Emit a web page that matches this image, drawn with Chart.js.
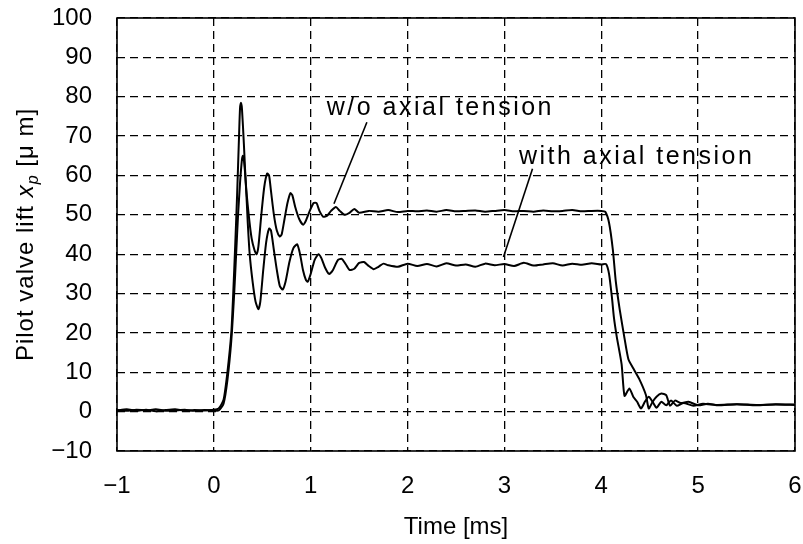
<!DOCTYPE html>
<html>
<head>
<meta charset="UTF-8">
<script src="https://cdn.jsdelivr.net/npm/chart.js"></script>
<title>Pilot valve lift</title>
<style>
  body { margin: 0; background: #fff; }
  #wrap { width: 803px; height: 544px; }
</style>
</head>
<body>
<div id="wrap"><canvas id="grafico"></canvas></div>
<script>
  // tempo [ms] e deslocamento [um]
  const tempoSem = [-1, -0.9, -0.8, -0.7, -0.6, -0.5, -0.4, -0.3, -0.2, -0.1, 0, 0.05, 0.1, 0.14, 0.18, 0.2, 0.22, 0.24, 0.26, 0.27, 0.28, 0.29, 0.31, 0.33, 0.36, 0.39, 0.42, 0.44, 0.46, 0.49, 0.52, 0.55, 0.57, 0.59, 0.62, 0.65, 0.68, 0.7, 0.73, 0.76, 0.79, 0.81, 0.84, 0.88, 0.92, 0.95, 0.99, 1.03, 1.06, 1.09, 1.13, 1.17, 1.21, 1.26, 1.3, 1.35, 1.4, 1.45, 1.5, 1.6, 1.7, 1.8, 1.9, 2.0, 2.1, 2.2, 2.3, 2.4, 2.5, 2.6, 2.7, 2.8, 2.9, 3.0, 3.1, 3.2, 3.3, 3.4, 3.5, 3.6, 3.7, 3.8, 3.9, 4.0, 4.04, 4.08, 4.12, 4.15, 4.19, 4.24, 4.28, 4.33, 4.39, 4.46, 4.49, 4.53, 4.57, 4.62, 4.67, 4.71, 4.76, 4.82, 4.9, 5.0, 5.1, 5.2, 5.4, 5.6, 5.8, 6.0];
  const liftSem = [0.3, 0.6, 0.2, 0.5, 0.1, 0.4, 0.6, 0.2, 0.4, 0.3, 0.5, 0.8, 3, 10, 20, 30, 42, 55, 70, 77, 78.5, 77, 68, 58, 50, 44, 41, 40, 42, 50, 57, 60.5, 60, 56, 50, 46, 44.5, 45, 49, 53, 55.5, 55, 52, 49, 47.5, 48.5, 51, 53, 53, 51, 49.5, 49.8, 51, 52, 51, 50, 50.5, 51.5, 50.5, 51, 50.8, 51.2, 50.7, 51, 50.9, 51.1, 50.8, 51.2, 50.9, 51, 51.1, 50.8, 51, 51.2, 50.9, 51, 50.8, 51.1, 50.9, 51, 51.2, 50.9, 51, 51, 50.8, 48, 41, 33, 26, 18.6, 13.3, 11, 8.4, 4.3, 0.8, 2.5, 3.8, 4.6, 4.2, 1.5, 2.8, 2.2, 2.5, 1.6, 2, 1.7, 1.9, 1.6, 1.9, 1.8];

  const tempoCom = [-1, -0.9, -0.8, -0.7, -0.6, -0.5, -0.4, -0.3, -0.2, -0.1, 0, 0.05, 0.1, 0.14, 0.18, 0.21, 0.23, 0.25, 0.27, 0.29, 0.3, 0.31, 0.33, 0.35, 0.37, 0.4, 0.43, 0.46, 0.48, 0.51, 0.54, 0.57, 0.59, 0.62, 0.65, 0.68, 0.71, 0.74, 0.78, 0.82, 0.86, 0.89, 0.92, 0.95, 0.97, 1.0, 1.04, 1.08, 1.11, 1.15, 1.19, 1.23, 1.28, 1.32, 1.36, 1.4, 1.45, 1.5, 1.55, 1.6, 1.65, 1.7, 1.75, 1.8, 1.9, 2.0, 2.1, 2.2, 2.3, 2.4, 2.5, 2.6, 2.7, 2.8, 2.9, 3.0, 3.1, 3.2, 3.3, 3.4, 3.5, 3.6, 3.7, 3.8, 3.9, 4.0, 4.05, 4.08, 4.11, 4.13, 4.16, 4.21, 4.24, 4.29, 4.33, 4.37, 4.41, 4.45, 4.49, 4.53, 4.57, 4.62, 4.67, 4.72, 4.78, 4.85, 4.95, 5.05, 5.2, 5.4, 5.6, 5.8, 6.0];
  const liftCom = [0.4, 0.2, 0.5, 0.3, 0.6, 0.2, 0.3, 0.5, 0.2, 0.4, 0.3, 0.3, 2, 8, 18, 30, 40, 50, 58, 64, 65, 64, 58, 48, 40, 33, 28, 26, 28, 36, 43, 46.5, 46, 41, 36, 32, 31, 33, 38, 41.5, 42.5, 40, 36, 33.5, 33, 35, 38.5, 40, 39, 36.5, 35, 36, 38.5, 38.8, 37.5, 36, 36.3, 37.8, 38, 37, 36.2, 36.8, 37.6, 37.2, 36.8, 37.6, 37, 37.5, 36.9, 37.7, 37.1, 37.4, 36.8, 37.6, 37.2, 37.5, 37, 37.8, 37.1, 37.4, 37.7, 37.1, 37.6, 37.3, 37.7, 37.4, 37.5, 35, 29, 24, 19, 12, 4, 5.9, 3.8, 2.5, 0.8, 2.5, 3.8, 2.5, 1, 2.5, 1.6, 2.8, 1.5, 2.2, 1.5, 2, 1.6, 1.9, 1.7, 1.8, 1.7];

  // rotulos dos eixos
  const ticksX = [-1, 0, 1, 2, 3, 4, 5, 6];
  const ticksY = [-10, 0, 10, 20, 30, 40, 50, 60, 70, 80, 90, 100];

  // anotacoes (coordenadas em unidades dos eixos)
  const notas = [
    { texto: 'w/o axial tension', x: 1.165, y: 75.3, de: [1.58, 73.5], ate: [1.24, 52.8] },
    { texto: 'with axial tension', x: 3.15, y: 63, de: [3.29, 61.7], ate: [2.99, 39.3] }
  ];

  function montarPontos(tempo, lift) {
    let pontos = [];
    for (let i = 0; i < tempo.length; i++) {
      pontos.push({ x: tempo[i], y: lift[i] });
    }
    return pontos;
  }

  const fonteEixo = { family: "'Liberation Sans', Arial, sans-serif", size: 24 };

  // moldura, titulo do eixo y e anotacoes
  const extras = {
    id: 'extras',
    afterDatasetsDraw(chart) {
      const ctx = chart.ctx;
      const a = chart.chartArea;
      const sx = chart.scales.x;
      const sy = chart.scales.y;
      ctx.save();
      ctx.strokeStyle = '#000';
      ctx.lineWidth = 1.6;
      ctx.setLineDash([]);
      ctx.strokeRect(a.left, a.top, a.right - a.left, a.bottom - a.top);

      ctx.fillStyle = '#000';
      ctx.font = "25px 'Liberation Sans', Arial, sans-serif";
      ctx.letterSpacing = '2.5px';
      ctx.textBaseline = 'alphabetic';
      ctx.textAlign = 'left';
      ctx.lineWidth = 1.6;
      notas.forEach(function (n) {
        ctx.fillText(n.texto, sx.getPixelForValue(n.x), sy.getPixelForValue(n.y));
        ctx.beginPath();
        ctx.moveTo(sx.getPixelForValue(n.de[0]), sy.getPixelForValue(n.de[1]));
        ctx.lineTo(sx.getPixelForValue(n.ate[0]), sy.getPixelForValue(n.ate[1]));
        ctx.stroke();
      });

      // titulo do eixo y: Pilot valve lift x_p [μm]
      ctx.letterSpacing = '1px';
      const partes = [
        { t: 'Pilot valve lift ', f: "24px 'Liberation Sans', Arial, sans-serif", dy: 0 },
        { t: 'x', f: "italic 24px 'Liberation Sans', Arial, sans-serif", dy: 0 },
        { t: 'p', f: "italic 16px 'Liberation Sans', Arial, sans-serif", dy: 5 },
        { t: ' [μ m]', f: "24px 'Liberation Sans', Arial, sans-serif", dy: 0 }
      ];
      let total = 0;
      partes.forEach(function (p) { ctx.font = p.f; p.w = ctx.measureText(p.t).width; total += p.w; });
      ctx.translate(33, (a.top + a.bottom) / 2);
      ctx.rotate(-Math.PI / 2);
      let pos = -total / 2;
      partes.forEach(function (p) {
        ctx.font = p.f;
        ctx.fillText(p.t, pos, p.dy);
        pos += p.w;
      });
      ctx.restore();
    }
  };

  const config = {
    type: 'line',
    data: {
      datasets: [{
        label: 'w/o axial tension',
        data: montarPontos(tempoSem, liftSem),
        borderColor: '#000',
        borderWidth: 2,
        pointRadius: 0,
        tension: 0.2,
        fill: false
      }, {
        label: 'with axial tension',
        data: montarPontos(tempoCom, liftCom),
        borderColor: '#000',
        borderWidth: 2,
        pointRadius: 0,
        tension: 0.2,
        fill: false
      }]
    },
    options: {
      responsive: true,
      maintainAspectRatio: false,
      animation: false,
      layout: { padding: { top: 18, right: 8, left: 0, bottom: 0 } },
      plugins: {
        legend: { display: false },
        tooltip: { enabled: false }
      },
      scales: {
        x: {
          type: 'linear',
          min: -1,
          max: 6,
          afterBuildTicks: function (scale) {
            scale.ticks = ticksX.map(function (v) { return { value: v }; });
          },
          afterFit: function (scale) {
            scale.height = 93;
            scale.paddingLeft = 0;
            scale.paddingRight = 0;
          },
          ticks: {
            color: '#000',
            font: fonteEixo,
            padding: 21,
            maxRotation: 0,
            callback: function (v) { return String(v).replace('-', '\u2212'); }
          },
          grid: { color: '#000', lineWidth: 1.3, drawTicks: false },
          border: { display: false, dash: [8, 5] },
          title: {
            display: true,
            text: 'Time [ms]',
            color: '#000',
            font: fonteEixo,
            padding: { top: 0, bottom: 2 }
          }
        },
        y: {
          min: -10,
          max: 100,
          afterBuildTicks: function (scale) {
            scale.ticks = ticksY.map(function (v) { return { value: v }; });
          },
          afterFit: function (scale) {
            scale.width = 117;
            scale.paddingTop = 0;
            scale.paddingBottom = 0;
          },
          ticks: {
            color: '#000',
            font: fonteEixo,
            padding: 25,
            callback: function (v) { return String(v).replace('-', '\u2212'); }
          },
          grid: { color: '#000', lineWidth: 1.3, drawTicks: false },
          border: { display: false, dash: [8, 5] }
        }
      }
    },
    plugins: [extras]
  };

  let grafico = new Chart(document.getElementById('grafico'), config);
</script>
</body>
</html>
